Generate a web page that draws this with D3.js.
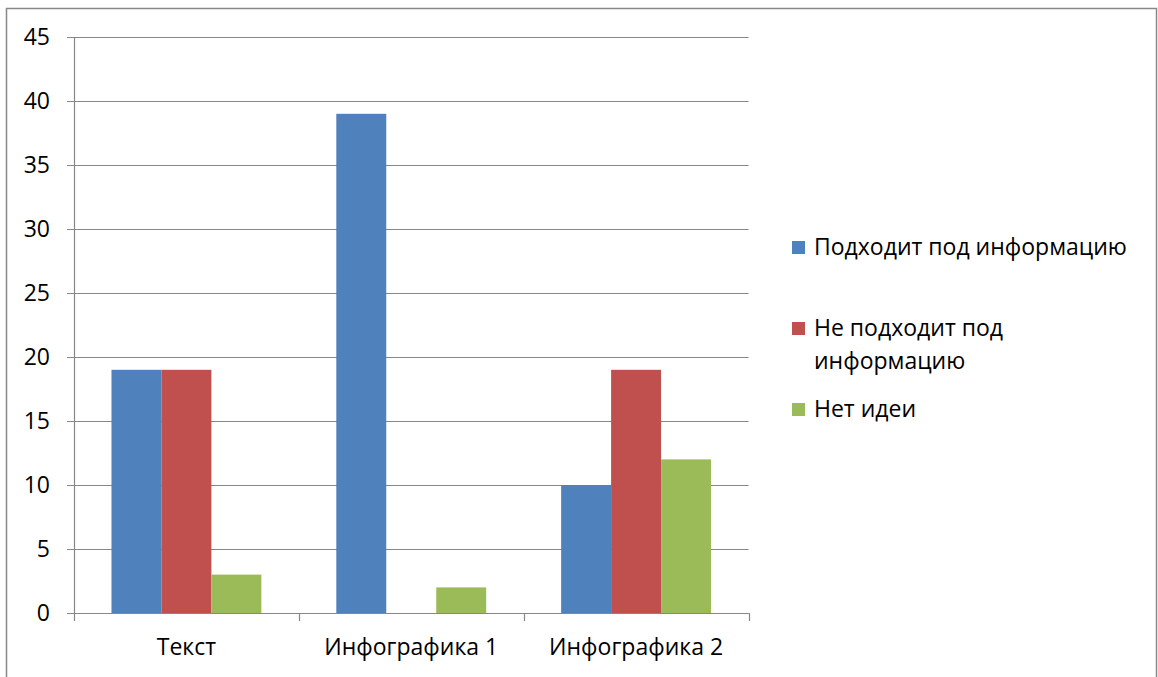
<!DOCTYPE html>
<html><head><meta charset="utf-8">
<script src="https://cdn.jsdelivr.net/npm/d3@7"></script>
<style>body{margin:0;background:#fff;} svg{display:block;font-family:"Open Sans",sans-serif;}</style>
</head><body><svg id="c" width="1158" height="677"></svg>
<script>
const categories = ["Текст", "Инфографика 1", "Инфографика 2"];
const seriesNames = ["Подходит под информацию", "Не подходит под информацию", "Нет идеи"];
const seriesA = [19, 39, 10];
const seriesB = [19, 0, 19];
const seriesC = [3, 2, 12];
const yTicks = [0, 5, 10, 15, 20, 25, 30, 35, 40, 45];
const colors = ["#4F81BD", "#C0504D", "#9BBB59"];
const seriesVals = [seriesA, seriesB, seriesC];

const svg = d3.select("#c");
svg.append("rect").attr("x", 6.5).attr("y", 8.5).attr("width", 1150).attr("height", 700)
  .attr("fill", "none").attr("stroke", "#888").attr("stroke-width", 1.5);

const pLeft = 74, pRight = 748.5, pTop = 37, pBottom = 613;
const x = d3.scaleBand().domain(categories).range([pLeft, pRight]);
const xs = d3.scaleBand().domain(d3.range(3)).range([0, x.bandwidth()]).paddingOuter(0.75).paddingInner(0);
const y = d3.scaleLinear().domain([0, 45]).range([pBottom, pTop]);

// gridlines
svg.append("g").selectAll("line").data(yTicks).join("line")
  .attr("x1", pLeft - 7).attr("x2", pRight).attr("y1", d => Math.round(y(d)) + 0.5).attr("y2", d => Math.round(y(d)) + 0.5)
  .attr("stroke", "#878787").attr("stroke-width", 1.2);

// bars
const g = svg.append("g");
seriesVals.forEach((vals, si) => {
  g.selectAll(null).data(vals.map((v, i) => ({v, c: categories[i]}))).join("rect")
    .attr("x", d => x(d.c) + xs(si)).attr("width", xs.bandwidth())
    .attr("y", d => y(d.v)).attr("height", d => y(0) - y(d.v))
    .attr("fill", colors[si]);
});

// y axis line
svg.append("line").attr("x1", pLeft + 0.5).attr("x2", pLeft + 0.5).attr("y1", pTop).attr("y2", pBottom)
  .attr("stroke", "#878787").attr("stroke-width", 1.2);
// x axis line and ticks
svg.append("line").attr("x1", pLeft - 7).attr("x2", pRight).attr("y1", pBottom + 0.5).attr("y2", pBottom + 0.5)
  .attr("stroke", "#878787").attr("stroke-width", 1.2);
const bounds = categories.map(c => x(c)).concat([pRight]);
svg.append("g").selectAll("line").data(bounds).join("line")
  .attr("x1", d => Math.round(d) + 0.5).attr("x2", d => Math.round(d) + 0.5).attr("y1", pBottom).attr("y2", pBottom + 8)
  .attr("stroke", "#878787").attr("stroke-width", 1.2);

// y labels
svg.append("g").selectAll("text").data(yTicks).join("text")
  .attr("x", 50).attr("y", d => y(d)).attr("dy", "0.35em").attr("text-anchor", "end")
  .attr("font-size", "23px").attr("fill", "#000").text(d => d);

// x labels
svg.append("g").selectAll("text").data(categories).join("text")
  .attr("x", d => x(d) + x.bandwidth() / 2).attr("y", 655).attr("text-anchor", "middle")
  .attr("font-size", "23px").attr("fill", "#000").text(d => d);

// legend
const legendLines = [["Подходит под информацию"], ["Не подходит под", "информацию"], ["Нет идеи"]];
const legendY = [247, 328, 409];
const lg = svg.append("g");
legendLines.forEach((lines, i) => {
  lg.append("rect").attr("x", 792).attr("y", legendY[i] - 6).attr("width", 13).attr("height", 13).attr("fill", colors[i]);
  const t = lg.append("text").attr("x", 814).attr("y", legendY[i])
    .attr("font-size", "23px").attr("fill", "#000");
  lines.forEach((ln, j) => t.append("tspan").attr("x", 814).attr("dy", j === 0 ? "0.35em" : 33).text(ln));
});
</script></body></html>
